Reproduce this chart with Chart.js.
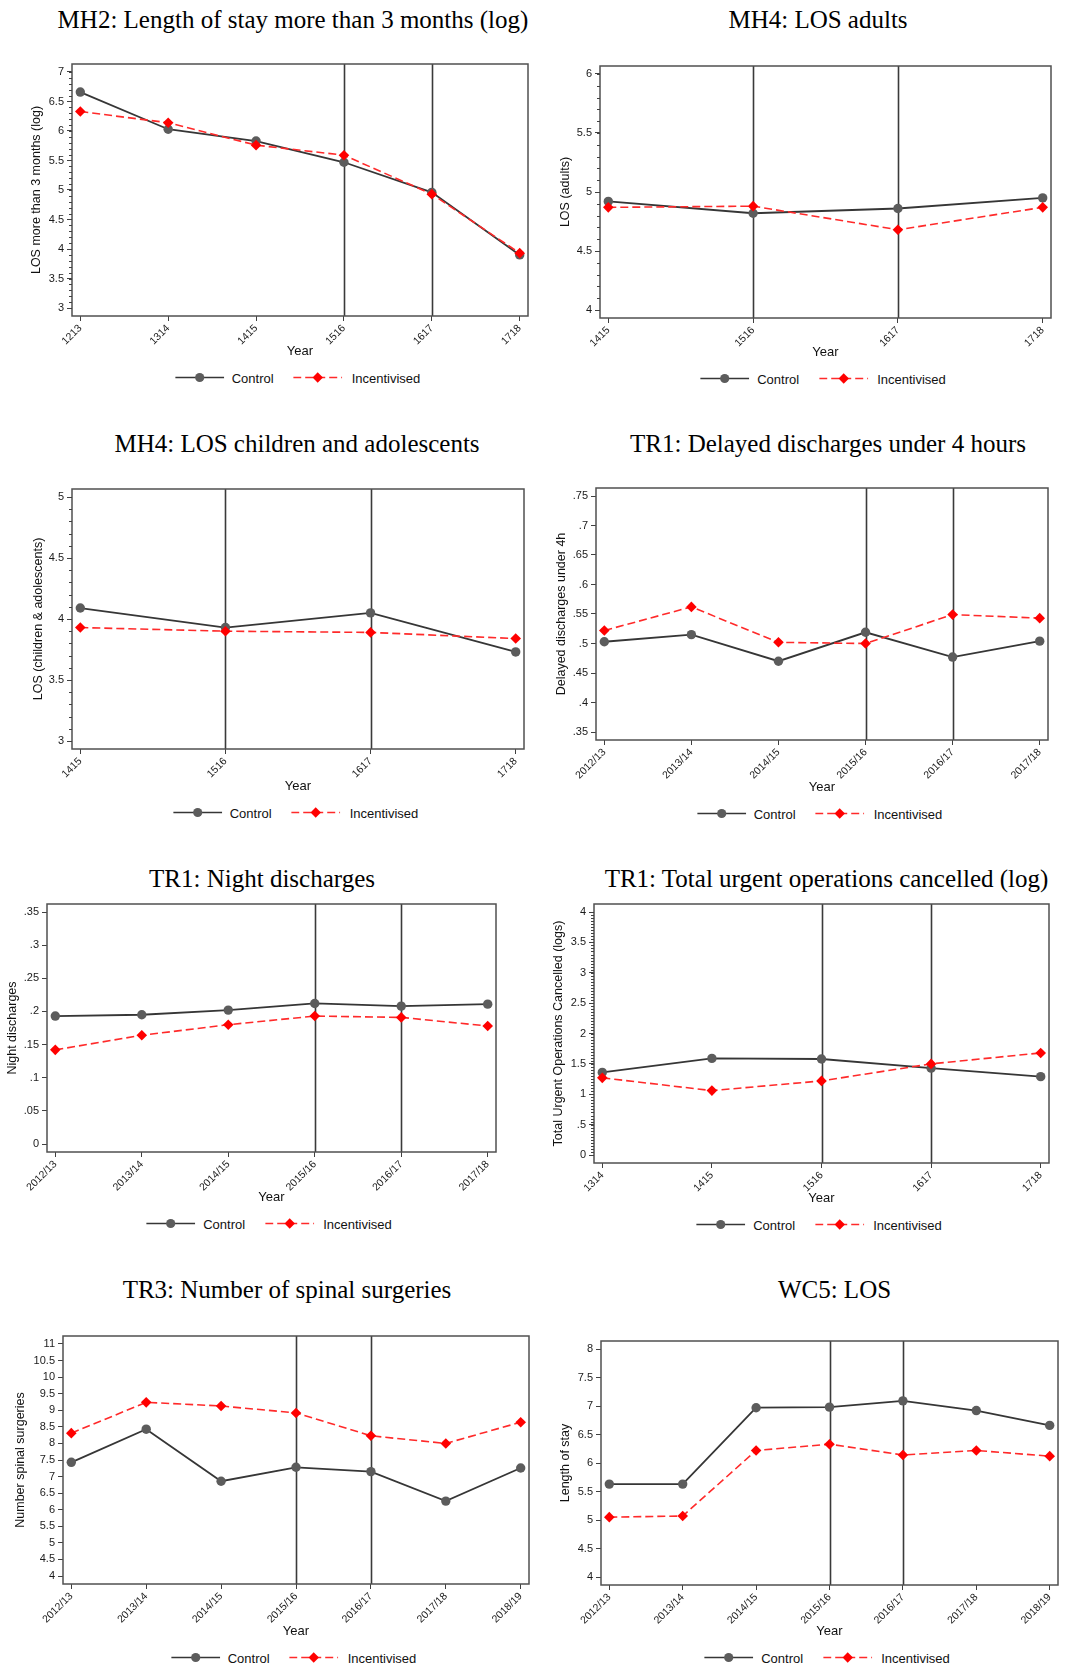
<!DOCTYPE html>
<html>
<head>
<meta charset="utf-8">
<script src="https://cdn.jsdelivr.net/npm/chart.js@4.4.1/dist/chart.umd.min.js"></script>
<style>
body{margin:0;background:#fff;width:1065px;height:1677px;position:relative;overflow:hidden;font-family:"Liberation Sans",Arial,sans-serif}
.title{position:absolute;font-family:"Liberation Serif","Times New Roman",serif;font-size:25px;line-height:1;white-space:nowrap;transform:translateX(-50%);color:#000}
canvas{position:absolute}
.legend{position:absolute;display:flex;align-items:center;transform:translate(-50%,-50%);font-size:13px;white-space:nowrap;color:#111}
.legend svg{display:block}
</style>
</head>
<body>
<script>
// ---- data ----
const seriesNames = ['Control', 'Incentivised'];

const mh2Years = ['1213', '1314', '1415', '1516', '1617', '1718'];
const mh2Control = [6.66, 6.03, 5.83, 5.47, 4.96, 3.90];
const mh2Incent = [6.33, 6.14, 5.76, 5.59, 4.93, 3.93];
const mh2Ticks = [3, 3.5, 4, 4.5, 5, 5.5, 6, 6.5, 7];
const mh2TickLabels = ['3', '3.5', '4', '4.5', '5', '5.5', '6', '6.5', '7'];

const adultYears = ['1415', '1516', '1617', '1718'];
const adultControl = [4.92, 4.82, 4.86, 4.95];
const adultIncent = [4.87, 4.88, 4.68, 4.87];
const adultTicks = [4, 4.5, 5, 5.5, 6];
const adultTickLabels = ['4', '4.5', '5', '5.5', '6'];

const childYears = ['1415', '1516', '1617', '1718'];
const childControl = [4.09, 3.93, 4.05, 3.73];
const childIncent = [3.93, 3.90, 3.89, 3.84];
const childTicks = [3, 3.5, 4, 4.5, 5];
const childTickLabels = ['3', '3.5', '4', '4.5', '5'];

const delayYears = ['2012/13', '2013/14', '2014/15', '2015/16', '2016/17', '2017/18'];
const delayControl = [0.503, 0.515, 0.470, 0.519, 0.477, 0.504];
const delayIncent = [0.522, 0.562, 0.502, 0.500, 0.549, 0.543];
const delayTicks = [0.35, 0.4, 0.45, 0.5, 0.55, 0.6, 0.65, 0.7, 0.75];
const delayTickLabels = ['.35', '.4', '.45', '.5', '.55', '.6', '.65', '.7', '.75'];

const nightYears = ['2012/13', '2013/14', '2014/15', '2015/16', '2016/17', '2017/18'];
const nightControl = [0.193, 0.195, 0.202, 0.212, 0.208, 0.211];
const nightIncent = [0.142, 0.164, 0.180, 0.193, 0.191, 0.178];
const nightTicks = [0, 0.05, 0.1, 0.15, 0.2, 0.25, 0.3, 0.35];
const nightTickLabels = ['0', '.05', '.1', '.15', '.2', '.25', '.3', '.35'];

const cancelYears = ['1314', '1415', '1516', '1617', '1718'];
const cancelControl = [1.36, 1.59, 1.58, 1.43, 1.29];
const cancelIncent = [1.27, 1.06, 1.22, 1.50, 1.68];
const cancelTicks = [0, 0.5, 1, 1.5, 2, 2.5, 3, 3.5, 4];
const cancelTickLabels = ['0', '.5', '1', '1.5', '2', '2.5', '3', '3.5', '4'];

const spinalYears = ['2012/13', '2013/14', '2014/15', '2015/16', '2016/17', '2017/18', '2018/19'];
const spinalControl = [7.43, 8.43, 6.86, 7.28, 7.15, 6.26, 7.26];
const spinalIncent = [8.31, 9.24, 9.13, 8.92, 8.23, 8.00, 8.64];
const spinalTicks = [4, 4.5, 5, 5.5, 6, 6.5, 7, 7.5, 8, 8.5, 9, 9.5, 10, 10.5, 11];
const spinalTickLabels = ['4', '4.5', '5', '5.5', '6', '6.5', '7', '7.5', '8', '8.5', '9', '9.5', '10', '10.5', '11'];

const wc5Years = ['2012/13', '2013/14', '2014/15', '2015/16', '2016/17', '2017/18', '2018/19'];
const wc5Control = [5.63, 5.63, 6.97, 6.98, 7.09, 6.92, 6.66];
const wc5Incent = [5.05, 5.07, 6.22, 6.33, 6.14, 6.22, 6.12];
const wc5Ticks = [4, 4.5, 5, 5.5, 6, 6.5, 7, 7.5, 8];
const wc5TickLabels = ['4', '4.5', '5', '5.5', '6', '6.5', '7', '7.5', '8'];

// ---- panels (layout) ----
const panels = [
  {title: 'MH2: Length of stay more than 3 months (log)', yTitle: 'LOS more than 3 months (log)',
   years: mh2Years, control: mh2Control, incent: mh2Incent, ticks: mh2Ticks, tickLabels: mh2TickLabels,
   vlines: ['1516', '1617'], minor: 0.1, box: [72, 64, 528, 316], yTitleX: 36, yearY: 352, titleX: 293, titleBase: 28},
  {title: 'MH4: LOS adults', yTitle: 'LOS (adults)',
   years: adultYears, control: adultControl, incent: adultIncent, ticks: adultTicks, tickLabels: adultTickLabels,
   vlines: ['1516', '1617'], minor: 0.1, box: [600, 66, 1051, 318], yTitleX: 565, yearY: 353, titleX: 818, titleBase: 28},
  {title: 'MH4: LOS children and adolescents', yTitle: 'LOS (children & adolescents)',
   years: childYears, control: childControl, incent: childIncent, ticks: childTicks, tickLabels: childTickLabels,
   vlines: ['1516', '1617'], minor: 0.1, box: [72, 489, 524, 749], yTitleX: 38, yearY: 787, titleX: 297, titleBase: 452},
  {title: 'TR1: Delayed discharges under 4 hours', yTitle: 'Delayed discharges under 4h',
   years: delayYears, control: delayControl, incent: delayIncent, ticks: delayTicks, tickLabels: delayTickLabels,
   vlines: ['2015/16', '2016/17'], minor: 0, box: [596, 488, 1048, 740], yTitleX: 561, yearY: 788, titleX: 828, titleBase: 452},
  {title: 'TR1: Night discharges', yTitle: 'Night discharges',
   years: nightYears, control: nightControl, incent: nightIncent, ticks: nightTicks, tickLabels: nightTickLabels,
   vlines: ['2015/16', '2016/17'], minor: 0, box: [47, 904, 496, 1152], yTitleX: 12, yearY: 1198, titleX: 262, titleBase: 887},
  {title: 'TR1: Total urgent operations cancelled (log)', yTitle: 'Total Urgent Operations Cancelled (logs)',
   years: cancelYears, control: cancelControl, incent: cancelIncent, ticks: cancelTicks, tickLabels: cancelTickLabels,
   vlines: ['1516', '1617'], minor: 0.05, box: [594, 904, 1049, 1163], yTitleX: 558, yearY: 1199, titleX: 826.5, titleBase: 887},
  {title: 'TR3: Number of spinal surgeries', yTitle: 'Number spinal surgeries',
   years: spinalYears, control: spinalControl, incent: spinalIncent, ticks: spinalTicks, tickLabels: spinalTickLabels,
   vlines: ['2015/16', '2016/17'], minor: 0, box: [63, 1336, 529, 1584], yTitleX: 20, yearY: 1632, titleX: 287, titleBase: 1298},
  {title: 'WC5: LOS', yTitle: 'Length of stay',
   years: wc5Years, control: wc5Control, incent: wc5Incent, ticks: wc5Ticks, tickLabels: wc5TickLabels,
   vlines: ['2015/16', '2016/17'], minor: 0, box: [601, 1341, 1058, 1585], yTitleX: 565, yearY: 1632, titleX: 834.5, titleBase: 1298}
];

const GREY_LINE = '#363636', GREY_PT = '#5c5c5c', RED_LINE = '#ff2a2a', RED_PT = '#ff0000', AXIS = '#404040';

// box, policy lines, minor ticks
const framePlugin = {
  id: 'frame',
  beforeDatasetsDraw(chart) {
    const {ctx, chartArea: a, scales: {x}} = chart;
    const p = chart.options.plugins.frame;
    ctx.save();
    ctx.strokeStyle = '#3a3a3a';
    ctx.lineWidth = 1.6;
    p.vlines.forEach(lab => {
      const px = Math.round(x.getPixelForValue(p.years.indexOf(lab))) + 0.5;
      ctx.beginPath(); ctx.moveTo(px, a.top); ctx.lineTo(px, a.bottom); ctx.stroke();
    });
    ctx.restore();
  },
  afterDraw(chart) {
    const {ctx, chartArea: a, scales: {y}} = chart;
    const p = chart.options.plugins.frame;
    ctx.save();
    ctx.strokeStyle = '#505050';
    ctx.lineWidth = 1.5;
    ctx.strokeRect(a.left, a.top, a.right - a.left, a.bottom - a.top);
    if (p.minor) {
      ctx.strokeStyle = AXIS;
      ctx.lineWidth = 1;
      const lo = p.ticks[0], hi = p.ticks[p.ticks.length - 1];
      const n = Math.round((hi - lo) / p.minor);
      for (let i = 0; i <= n; i++) {
        const py = Math.round(y.getPixelForValue(lo + i * p.minor)) + 0.5;
        ctx.beginPath(); ctx.moveTo(a.left - 3, py); ctx.lineTo(a.left, py); ctx.stroke();
      }
    }
    ctx.restore();
  }
};

function legendSvg(kind) {
  if (kind === 0) {
    return `<svg width="49" height="12"><line x1="0" y1="6" x2="49" y2="6" stroke="${GREY_LINE}" stroke-width="1.7"/>` +
      `<circle cx="24.5" cy="6" r="4.6" fill="${GREY_PT}"/></svg>`;
  }
  return `<svg width="49" height="12"><line x1="0" y1="6" x2="49" y2="6" stroke="${RED_LINE}" stroke-width="1.6" stroke-dasharray="8 4"/>` +
    `<polygon points="24.5,0.8 29.7,6 24.5,11.2 19.3,6" fill="${RED_PT}"/></svg>`;
}

function makePanel(p) {
  const [bl, bt, br, bb] = p.box;
  const padT = 10, padR = 10;
  const cl = p.yTitleX - 7;
  const ct = bt - padT;
  const cw = br + padR - cl;
  const ch = p.yearY + 7 - ct;
  const yw = bl - cl;
  const xh = p.yearY + 7 - bb;

  const canvas = document.createElement('canvas');
  canvas.width = cw; canvas.height = ch;
  canvas.style.left = cl + 'px'; canvas.style.top = ct + 'px';
  canvas.style.width = cw + 'px'; canvas.style.height = ch + 'px';
  document.body.appendChild(canvas);

  const n = p.years.length;
  const xPad = 8.3 * (n - 1) / ((br - bl) - 16.6);
  const lo = p.ticks[0], hi = p.ticks[p.ticks.length - 1];
  const yPad = 8 * (hi - lo) / ((bb - bt) - 16);

  new Chart(canvas, {
    type: 'line',
    data: {
      datasets: [
        {label: seriesNames[0], data: p.control.map((v, i) => ({x: i, y: v})), order: 1,
         borderColor: GREY_LINE, borderWidth: 1.8, pointStyle: 'circle', pointRadius: 4.7,
         pointBackgroundColor: GREY_PT, pointBorderWidth: 0, tension: 0},
        {label: seriesNames[1], data: p.incent.map((v, i) => ({x: i, y: v})), order: 0,
         borderColor: RED_LINE, borderWidth: 1.6, borderDash: [8, 4], pointStyle: 'rectRot', pointRadius: 5.3,
         pointBackgroundColor: RED_PT, pointBorderWidth: 0, tension: 0}
      ]
    },
    options: {
      responsive: false, animation: false, devicePixelRatio: 1,
      layout: {padding: {top: padT, right: padR, left: 0, bottom: 0}},
      plugins: {legend: {display: false}, tooltip: {enabled: false},
        frame: {vlines: p.vlines, years: p.years, minor: p.minor, ticks: p.ticks}},
      scales: {
        x: {
          type: 'linear', min: -xPad, max: n - 1 + xPad,
          afterBuildTicks: s => { s.ticks = p.years.map((_, i) => ({value: i})); },
          afterFit: s => { s.height = xh; },
          ticks: {autoSkip: false, minRotation: 45, maxRotation: 45, padding: 1, color: '#1a1a1a',
            font: {family: '"Liberation Sans", Arial', size: 10.5}, callback: (v, i) => p.years[i]},
          grid: {display: true, drawOnChartArea: false, drawTicks: true, tickLength: 5, color: AXIS},
          border: {display: false},
          title: {display: true, text: 'Year', color: '#111', padding: 0,
            font: {family: '"Liberation Sans", Arial', size: 13}}
        },
        y: {
          min: lo - yPad, max: hi + yPad,
          afterBuildTicks: s => { s.ticks = p.ticks.map(v => ({value: v})); },
          afterFit: s => { s.width = yw; },
          ticks: {autoSkip: false, padding: 3, color: '#1a1a1a',
            font: {family: '"Liberation Sans", Arial', size: 11}, callback: (v, i) => p.tickLabels[i]},
          grid: {display: true, drawOnChartArea: false, drawTicks: true, tickLength: 5, color: AXIS},
          border: {display: false},
          title: {display: true, text: p.yTitle, color: '#111', padding: 0,
            font: {family: '"Liberation Sans", Arial', size: 12.5}}
        }
      }
    },
    plugins: [framePlugin]
  });

  const t = document.createElement('div');
  t.className = 'title';
  t.textContent = p.title;
  t.style.left = p.titleX + 'px';
  t.style.top = (p.titleBase - 20.9) + 'px';
  document.body.appendChild(t);

  const lg = document.createElement('div');
  lg.className = 'legend';
  lg.style.left = ((bl + br) / 2 - 2.5) + 'px';
  lg.style.top = (p.yearY + 25.5) + 'px';
  lg.innerHTML = legendSvg(0) + `<span style="margin:0 20px 0 8px">${seriesNames[0]}</span>` +
    legendSvg(1) + `<span style="margin-left:9px">${seriesNames[1]}</span>`;
  document.body.appendChild(lg);
}

panels.forEach(makePanel);
</script>
</body>
</html>
